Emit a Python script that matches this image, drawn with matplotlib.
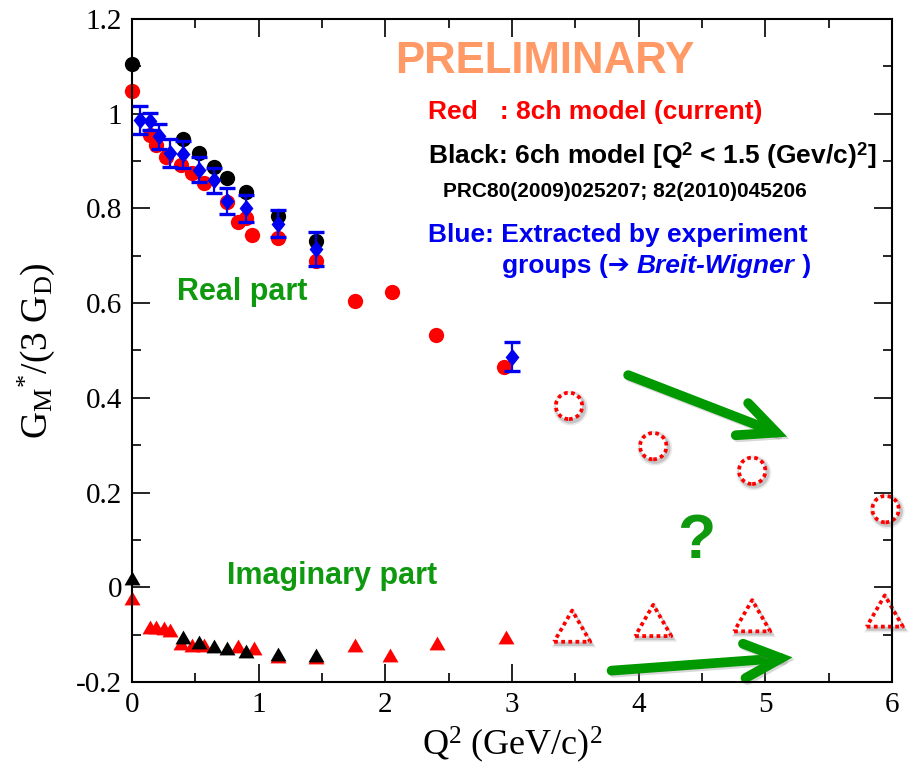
import numpy as np
import matplotlib
matplotlib.use("Agg")
import matplotlib.pyplot as plt
import matplotlib.patheffects as pe
from matplotlib.transforms import offset_copy
from matplotlib.ticker import MultipleLocator, FormatStrFormatter

plt.rcParams["font.family"] = "serif"
plt.rcParams["font.serif"] = ["Liberation Serif", "DejaVu Serif"]
plt.rcParams["mathtext.fontset"] = "custom"
plt.rcParams["mathtext.rm"] = "Liberation Serif"
plt.rcParams["mathtext.it"] = "Liberation Serif:italic"
plt.rcParams["mathtext.sf"] = "Liberation Sans:bold"

# real part, 8ch model
q2_re_8ch = [0.0, 0.14, 0.19, 0.27, 0.39, 0.47, 0.57, 0.75, 0.84, 0.90, 0.95, 1.15, 1.45, 1.76, 2.05, 2.40, 2.94]
gm_re_8ch = [1.049, 0.955, 0.934, 0.909, 0.892, 0.874, 0.853, 0.814, 0.772, 0.780, 0.744, 0.737, 0.688, 0.605, 0.624, 0.533, 0.465]

# real part, 6ch model
q2_re_6ch = [0.0, 0.40, 0.53, 0.65, 0.75, 0.90, 1.15, 1.45]
gm_re_6ch = [1.105, 0.947, 0.917, 0.888, 0.865, 0.835, 0.784, 0.732]

# Breit-Wigner extraction
q2_bw = [0.06, 0.14, 0.21, 0.30, 0.40, 0.53, 0.65, 0.75, 0.90, 1.15, 1.45, 3.0]
gm_bw = [0.987, 0.984, 0.952, 0.917, 0.914, 0.882, 0.859, 0.816, 0.800, 0.768, 0.714, 0.487]
err_bw = [0.030, 0.018, 0.027, 0.029, 0.028, 0.027, 0.027, 0.027, 0.028, 0.029, 0.036, 0.031]

# expected points at high Q^2
q2_re_hi = [3.45, 4.115, 4.896, 5.949]
gm_re_hi = [0.383, 0.298, 0.246, 0.165]
q2_im_hi = [3.475, 4.115, 4.896, 5.943]
gm_im_hi = [-0.082, -0.070, -0.060, -0.050]

# imaginary part
q2_im_8ch = [0.0, 0.14, 0.19, 0.25, 0.30, 0.39, 0.47, 0.57, 0.84, 0.96, 1.15, 1.45, 1.76, 2.04, 2.41, 2.95]
gm_im_8ch = [-0.023, -0.083, -0.083, -0.087, -0.090, -0.118, -0.122, -0.122, -0.124, -0.129, -0.145, -0.147, -0.122, -0.143, -0.117, -0.104]
q2_im_6ch = [0.0, 0.40, 0.53, 0.65, 0.75, 0.90, 1.15, 1.45]
gm_im_6ch = [0.019, -0.106, -0.115, -0.124, -0.129, -0.134, -0.141, -0.143]

RED = "#ff0000"
BLUE = "#0000f0"
GREEN = "#0f990f"
ORANGE = "#ff9966"
SANS = ["Liberation Sans", "DejaVu Sans"]

tri = [(-1, -0.866), (1, -0.866), (0, 0.866), (-1, -0.866)]
diamond = [(0, 1), (0.8, 0), (0, -1), (-0.8, 0), (0, 1)]

fig = plt.figure(figsize=(9.12, 7.75), dpi=100)
ax = fig.add_axes([132 / 912, 1 - 682 / 775, 760 / 912, 663 / 775])

ax.plot(q2_re_8ch, gm_re_8ch, "o", color=RED, ms=11, mec="none", clip_on=False)
ax.plot(q2_re_6ch, gm_re_6ch, "o", color="black", ms=11, mec="none", clip_on=False)
ax.errorbar(q2_bw, gm_bw, yerr=err_bw, fmt="none", ecolor=BLUE,
            elinewidth=1.6, capsize=6, capthick=2.4)
ax.plot(q2_bw, gm_bw, linestyle="none", marker=diamond, color=BLUE, ms=12.5, mec="none")

ax.plot(q2_im_8ch, gm_im_8ch, linestyle="none", marker=tri, color=RED, ms=11.5, mec="none", clip_on=False)
ax.plot(q2_im_6ch, gm_im_6ch, linestyle="none", marker=tri, color="black", ms=11.5, mec="none", clip_on=False)

# open dotted markers with a soft drop shadow
shadow_tr = offset_copy(ax.transData, fig=fig, x=1.2, y=-1.5, units="points")
for xs, ys, mk, size in [(q2_re_hi, gm_re_hi, "o", 19), (q2_im_hi, gm_im_hi, tri, 26)]:
    for grow, alpha in [(6, 0.15), (3.5, 0.3)]:
        ax.scatter(xs, ys, s=(size + grow) ** 2, marker=mk, facecolor="0.45", edgecolor="none",
                   alpha=alpha, transform=shadow_tr, zorder=3, clip_on=False)
    ax.scatter(xs, ys, s=size ** 2, marker=mk, facecolor="white", edgecolor=RED,
               linewidths=2.7, linestyles=(0, (1, 0.9)), zorder=4, clip_on=False)

# trend arrows
arrow_kw = dict(arrowstyle="->,head_length=1.33,head_width=0.62", lw=7, color="#009900",
                mutation_scale=20, shrinkA=0, shrinkB=0, joinstyle="miter",
                path_effects=[pe.SimpleLineShadow(offset=(1.5, -1.5), shadow_color="0.5", alpha=0.3), pe.Normal()])
ax.annotate("", xy=(5.172, 0.318), xytext=(3.917, 0.448), arrowprops=arrow_kw)
ax.annotate("", xy=(5.215, -0.148), xytext=(3.786, -0.176), arrowprops=arrow_kw)

# annotations
ax.text(2.076, 1.085, "PRELIMINARY", color=ORANGE, fontsize=31.5, fontweight="bold",
        family=SANS, va="baseline", ha="left")
ax.text(2.339, 0.988, "Red   : 8ch model (current)", color=RED, fontsize=19,
        fontweight="bold", family=SANS, va="baseline")
ax.text(2.339, 0.895, r"Black: 6ch model [Q$^{\mathsf{2}}$ < 1.5 (Gev/c)$^{\mathsf{2}}$]", color="black",
        fontsize=19, fontweight="bold", family=SANS, va="baseline")
ax.text(2.457, 0.825, "PRC80(2009)025207; 82(2010)045206", color="black", fontsize=15,
        fontweight="bold", family=SANS, va="baseline")
ax.text(2.339, 0.730, "Blue: Extracted by experiment", color=BLUE, fontsize=19,
        fontweight="bold", family=SANS, va="baseline")
t1 = ax.text(2.918, 0.664, "groups (\u2794 ", color=BLUE, fontsize=19,
             fontweight="bold", family=SANS, va="baseline")
t2 = ax.annotate("Breit-Wigner", xy=(1, 0.664), xycoords=(t1, "data"), color=BLUE,
                 fontsize=19, fontweight="bold", fontstyle="italic", family=SANS, va="baseline")
ax.annotate(" )", xy=(1, 0.664), xycoords=(t2, "data"), color=BLUE,
            fontsize=19, fontweight="bold", family=SANS, va="baseline")

ax.text(0.353, 0.607, "Real part", color=GREEN, fontsize=22, fontweight="bold",
        family=SANS, va="baseline")
ax.text(0.747, 0.007, "Imaginary part", color=GREEN, fontsize=22, fontweight="bold",
        family=SANS, va="baseline")
ax.text(4.30, 0.061, "?", color=GREEN, fontsize=45, fontweight="bold",
        family=SANS, va="baseline")

ax.set_xlim(0, 6)
ax.set_ylim(-0.2, 1.2)
ax.xaxis.set_major_locator(MultipleLocator(1))
ax.xaxis.set_minor_locator(MultipleLocator(0.5))
ax.yaxis.set_major_locator(MultipleLocator(0.2))
ax.yaxis.set_minor_locator(MultipleLocator(0.1))
ax.xaxis.set_major_formatter(FormatStrFormatter("%g"))
ax.yaxis.set_major_formatter(FormatStrFormatter("%g"))
ax.tick_params(which="both", direction="in", top=True, right=True, width=1.2, labelsize=21)
ax.tick_params(which="major", length=13, pad=7)
ax.tick_params(which="minor", length=6.5)
for sp in ax.spines.values():
    sp.set_linewidth(1.5)
    sp.set_zorder(5)

ax.set_xlabel(r"$\mathrm{Q^2\ (GeV/c)^2}$", fontsize=26, labelpad=5)
ax.set_ylabel(r"$\mathrm{G_M}^{*}\mathrm{/(3\ G_D)}$", fontsize=27, labelpad=14)

fig.savefig("out.png", dpi=100)
